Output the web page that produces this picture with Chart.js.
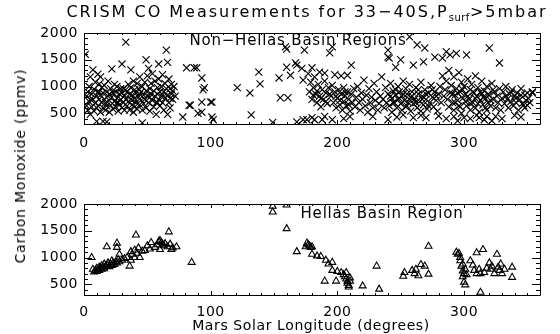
<!DOCTYPE html>
<html>
<head>
<meta charset="utf-8">
<script src="https://cdn.jsdelivr.net/npm/chart.js@4.4.1/dist/chart.umd.min.js"></script>
<style>
  body { margin: 0; background: #fff; width: 560px; height: 334px; position: relative; overflow: hidden; font-family: "DejaVu Sans", sans-serif; color: #000; }
  canvas { position: absolute; left: 0; }
  .lbl { position: absolute; white-space: nowrap; line-height: 1; }
  sub { font-size: 10px; vertical-align: -4px; letter-spacing: 0.5px; }
</style>
</head>
<body>
<canvas id="topPanel" width="560" height="170" style="top:0"></canvas>
<canvas id="botPanel" width="560" height="164" style="top:170px"></canvas>

<div class="lbl" style="font-size:16px;letter-spacing:2px;left:307px;top:13px;transform:translate(-50%,-50%)">CRISM CO Measurements for 33−40S,P<sub>surf</sub>&gt;5mbar</div>
<div class="lbl" style="font-size:14px;letter-spacing:0.8px;left:20px;top:166px;transform:translate(-50%,-50%) rotate(-90deg)">Carbon Monoxide (ppmv)</div>
<div class="lbl" style="font-size:14px;letter-spacing:0.6px;left:311px;top:325px;transform:translate(-50%,-50%)">Mars Solar Longitude (degrees)</div>
<div class="lbl" style="font-size:15px;letter-spacing:0.8px;left:298px;top:40px;transform:translate(-50%,-50%)">Non−Hellas Basin Regions</div>
<div class="lbl" style="font-size:15px;letter-spacing:0.8px;left:382px;top:213px;transform:translate(-50%,-50%)">Hellas Basin Region</div>

<script>
// tick labels
const xTickValues = [0, 100, 200, 300];
const yTickValues = [500, 1000, 1500, 2000];

// Non-Hellas basin regions: [Ls, CO ppmv]
const nonHellasPts = [
  [1,1600],[2,820],[2,640],[3,560],[3,900],[4,1000],[4,720],[5,480],[5,1180],[6,860],[6,620],[7,1310],[7,760],[8,540],[8,950],[9,700],[9,1080],[10,820],[10,600],[10,350],
  [11,1230],[11,900],[11,640],[12,760],[12,1050],[13,1180],[13,520],[13,840],[14,700],[14,980],[15,600],[15,350],[15,880],[16,760],[16,1020],[17,560],[17,700],[18,900],[18,340],[18,640],[19,820],[19,1100],[20,740],[20,520],
  [21,960],[21,650],[22,1330],[22,800],[23,580],[23,880],[24,720],[24,1040],[25,620],[25,900],[26,780],[26,1000],[27,540],[27,700],[28,860],[28,660],[29,960],[29,760],[30,1420],[30,600],[30,880],
  [31,700],[31,960],[32,820],[32,560],[33,1830],[33,760],[34,900],[34,640],[35,1040],[35,720],[36,860],[36,560],[37,1310],[37,760],[37,980],[38,660],[38,840],[39,1100],[39,520],[40,780],[40,940],[40,620],
  [41,880],[41,700],[42,1060],[42,580],[43,800],[43,960],[44,660],[44,1180],[45,900],[45,740],[46,320],[46,1000],[46,560],[47,840],[47,680],[48,1080],[48,760],[49,1500],[49,920],[49,600],[50,820],[50,1200],
  [51,1340],[51,700],[52,960],[52,540],[53,860],[53,1060],[54,740],[54,1240],[55,920],[55,620],[56,820],[56,1100],[57,700],[57,480],[58,980],[58,860],[59,1420],[59,760],[59,1140],[60,900],[60,640],
  [61,1000],[61,820],[62,1220],[62,700],[63,900],[63,560],[64,1060],[64,780],[65,1680],[65,960],[66,1450],[66,840],[66,480],[67,1140],[67,700],[68,960],[68,600],[69,860],[69,1040],[70,760],[70,920],[71,1000],[72,820],
  [5,760],[12,900],[20,860],[26,700],[33,940],[38,740],[44,860],[52,800],[58,700],[63,820],[68,780],
  [78,430],[81,1350],[83,650],[84,650],[87,1350],[89,1350],[90,500],[93,520],[93,1160],[93,710],[94,940],[95,980],[100,710],[101,710],[101,430],[102,380],
  [121,980],[131,880],[132,470],[138,1270],[139,1050],
  [149,330],[154,1160],[155,790],[160,1700],[159,1740],[160,1360],[161,790],[163,1210],[167,1440],[168,1400],[168,340],[172,1340],[173,1120],[173,380],[174,1680],
  [176,380],[177,1240],[178,900],[179,1080],[180,1350],[180,760],[181,980],[182,380],[182,1180],[183,860],[184,700],[185,1040],[186,1270],[186,820],[187,620],[188,380],[188,940],[189,760],[190,1250],[190,1100],[191,880],[192,680],[193,980],[194,1630],[195,820],[196,1740],[196,380],[196,1020],[197,700],[198,1220],[198,900],[199,600],
  [181,840],[184,920],[187,780],[191,720],[194,860],[199,820],[202,740],[206,900],[209,660],
  [200,780],[201,940],[202,660],[203,1200],[203,860],[204,560],[205,980],[205,720],[206,820],[207,640],[208,1210],[208,900],[209,760],[210,540],[211,1400],[211,860],[212,700],[213,960],[214,620],[215,800],
  [216,1000],[217,700],[218,560],[219,880],[220,760],[221,1120],[222,640],[223,840],[224,520],[225,960],[226,700],[227,800],[228,600],[229,1060],[230,740],[231,900],[232,560],[233,680],[234,820],[235,1180],
  [236,760],[237,600],[238,980],[239,700],[240,1680],[240,1550],[240,860],[241,1530],[241,640],[242,1060],[243,780],[243,520],[244,920],[245,700],[246,1360],[246,840],[247,600],[248,1000],[248,760],[249,900],[250,1500],[250,680],
  [251,820],[251,560],[252,1100],[253,740],[254,960],[254,620],[255,860],[256,700],[257,1930],[257,1040],[258,800],[258,540],[259,900],[260,1400],[260,680],[261,760],[262,980],[263,1780],[263,600],[264,860],[265,720],
  [266,1080],[266,540],[267,820],[268,1460],[268,660],[269,1720],[269,940],[270,760],[271,580],[272,880],[273,700],[274,1020],[275,800],[276,620],[277,1550],[277,900],[278,740],[279,540],[280,860],
  [242,820],[244,700],[246,940],[249,780],[252,860],[255,640],[257,760],[259,820],[262,700],[264,940],[267,760],[270,860],[272,640],[275,940],[278,820],
  [281,1000],[282,700],[283,1530],[283,1200],[284,820],[285,940],[286,1650],[286,1100],[287,760],[288,1300],[288,620],[289,1590],[289,880],[290,1020],[291,700],[292,1180],[292,560],[293,840],[294,1620],[294,960],[295,740],[296,1260],[296,640],[297,900],[298,1080],[298,500],[299,780],[300,1000],
  [301,860],[302,1590],[302,640],[303,1140],[304,760],[305,940],[305,560],[306,1040],[307,700],[308,880],[309,1200],[309,600],[310,820],[311,980],[312,520],[313,740],[314,1100],[314,860],[315,660],[316,920],[317,780],[318,1000],[318,560],[319,700],
  [291,860],[293,700],[295,880],[297,620],[299,940],[301,720],[303,820],[305,680],[307,900],[309,780],[311,680],[313,900],[315,800],[317,600],[319,860],[321,740],[323,940],
  [320,1720],[320,840],[321,640],[322,1060],[323,760],[324,900],[325,600],[326,820],[327,700],[328,1440],[328,960],[329,560],[330,780],
  [331,900],[332,680],[333,1000],[334,760],[335,600],[336,860],[337,720],[338,940],[339,640],[340,820],[341,700],[342,880],[343,560],[344,760],[345,960],[346,680],[347,650],[348,840],[349,740],[350,880],[350,650],[351,780],[352,700],[354,900],[354,880],
  [333,820],[337,900],[341,780],[345,840],[348,600],
  [312,420],[316,380],[318,440],[322,360],[310,460],[286,400],[292,440],[260,420],[266,460],[300,420],[340,460],[228,440],[210,440],[252,470],
  [180,420],[190,440],[205,400],[240,380],[247,430],[270,420],[280,450],[295,360],[305,400],[325,440],[330,400],[345,430]
];

// Hellas basin region: [Ls, CO ppmv]
const hellasPts = [
  [6,1000],[7,780],[8,730],[9,760],[10,800],[10,740],[11,770],[12,820],[12,760],[13,800],[14,780],[14,850],[15,820],[16,880],[16,790],[17,840],[18,1200],[18,860],[19,900],[20,830],
  [21,880],[22,940],[22,850],[23,900],[24,870],[25,920],[26,1270],[26,1190],[26,900],[27,960],[28,1060],[28,920],[30,950],[32,980],[34,1000],[36,840],[37,950],[37,1110],[38,1060],[40,1000],
  [40,1140],[41,1420],[42,1080],[43,1180],[44,1000],[46,1120],[48,1130],[50,1220],[52,1160],[53,1280],[56,1190],[58,1240],[59,1300],[60,1150],[60,1320],[61,1280],[62,1250],[63,1220],[64,1260],[66,1200],
  [67,1480],[68,1250],[69,1150],[70,1180],[73,1200],[85,910],
  [149,1960],[149,1850],[160,1980],[160,1540],[168,1110],[175,1200],[176,1270],[177,1240],[178,1220],[179,1190],[180,1200],[180,1060],[184,1030],[187,1020],[190,560],[191,950],[193,880],[196,910],[196,760],[199,560],
  [200,740],[203,720],[205,680],[206,640],[207,720],[207,600],[208,560],[208,520],[209,480],[209,450],[210,620],[210,560],[220,470],[231,840],[233,410],
  [252,650],[253,720],[259,760],[261,700],[262,780],[264,660],[266,870],[269,840],[272,1210],[272,690],
  [294,1100],[295,1060],[296,1080],[297,1000],[297,940],[298,840],[299,880],[299,750],[300,700],[301,780],[300,540],[301,490],[299,640],[302,680],[305,940],[307,860],[308,760],[310,1090],[310,700],[312,780],
  [313,700],[313,350],[315,1150],[316,720],[318,800],[320,900],[321,780],[322,840],[324,700],[326,1060],[327,820],[328,760],[329,880],[330,700],[332,780],[338,820],[338,630]
];

const FONT = { family: 'DejaVu Sans', size: 14 };

// IDL style box with inward ticks on all four sides
const idlBox = {
  id: 'idlBox',
  beforeDraw(chart) {
    chart.ctx.letterSpacing = '0.5px';
  },
  afterDraw(chart) {
    const { ctx, chartArea: a, scales: { x, y } } = chart;
    ctx.save();
    ctx.strokeStyle = '#000';
    ctx.lineWidth = 1;
    ctx.beginPath();
    ctx.rect(Math.round(a.left) + 0.5, Math.round(a.top) + 0.5, Math.round(a.right - a.left), Math.round(a.bottom - a.top));
    for (let v = x.min; v <= x.max; v += 10) {
      const px = Math.round(x.getPixelForValue(v)) + 0.5;
      const len = v % 100 === 0 ? 4 : 2;
      ctx.moveTo(px, a.bottom); ctx.lineTo(px, a.bottom - len);
      ctx.moveTo(px, a.top); ctx.lineTo(px, a.top + len);
    }
    for (let v = y.min; v <= y.max; v += 100) {
      const py = Math.round(y.getPixelForValue(v)) + 0.5;
      const len = v % 500 === 0 ? 8 : 4;
      ctx.moveTo(a.left, py); ctx.lineTo(a.left + len, py);
      ctx.moveTo(a.right, py); ctx.lineTo(a.right - len, py);
    }
    ctx.stroke();
    ctx.restore();
  }
};

function makePanel(id, pts, style, radius, areaTop, axisH, xPad) {
  return new Chart(document.getElementById(id), {
    type: 'scatter',
    data: {
      datasets: [{
        data: pts.map(p => ({ x: p[0], y: p[1] })),
        pointStyle: style,
        pointRadius: radius,
        pointBorderWidth: 1.1,
        borderColor: '#000',
        backgroundColor: 'rgba(0,0,0,0)'
      }]
    },
    plugins: [idlBox],
    options: {
      responsive: false,
      animation: false,
      events: [],
      layout: { padding: { left: 0, right: 20, top: areaTop, bottom: 0 } },
      plugins: { legend: { display: false }, tooltip: { enabled: false } },
      scales: {
        x: {
          type: 'linear', min: 0, max: 360,
          afterBuildTicks: s => { s.ticks = xTickValues.map(v => ({ value: v })); },
          afterFit: s => { s.height = axisH; },
          ticks: { font: FONT, color: '#000', padding: xPad, maxRotation: 0, callback: v => String(v) },
          grid: { display: false, drawTicks: false },
          border: { display: false }
        },
        y: {
          type: 'linear', min: 300, max: 2000,
          afterBuildTicks: s => { s.ticks = yTickValues.map(v => ({ value: v })); },
          afterFit: s => { s.width = 84; },
          ticks: { font: FONT, color: '#000', padding: 6, callback: v => String(v) },
          grid: { display: false, drawTicks: false },
          border: { display: false }
        }
      }
    }
  });
}

makePanel('topPanel', nonHellasPts, 'crossRot', 5, 33, 46, 11);
makePanel('botPanel', hellasPts, 'triangle', 4, 34, 39, 9);
</script>
</body>
</html>
